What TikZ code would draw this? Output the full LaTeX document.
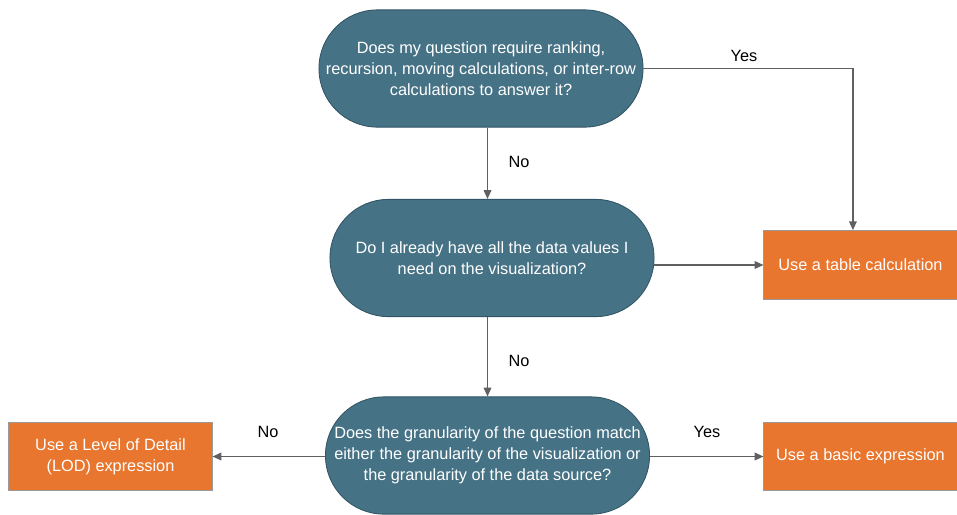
\documentclass[tikz,border=0pt]{standalone}
\usepackage{fontspec}
\setmainfont{Liberation Sans}
\usepackage{xcolor}
\usetikzlibrary{arrows.meta,calc,positioning}
\definecolor{flowteal}{RGB}{70,114,134}
\definecolor{flowtealdark}{RGB}{50,84,100}
\definecolor{floworange}{RGB}{232,118,46}
\definecolor{flowgray}{RGB}{96,96,96}

\begin{document}
\begin{tikzpicture}[x=0.025cm,y=-0.025cm,>={Triangle[length=0.22cm,width=0.19cm]},
  font=\fontsize{11.6}{15}\selectfont,
  question/.style={draw=flowtealdark,fill=flowteal,text=white,align=center,line width=0.6pt,
    minimum width=8.1cm,minimum height=2.93cm,rounded corners=1.46cm,inner sep=0pt},
  answer/.style={draw=gray!80,fill=floworange,text=white,align=center,line width=0.6pt,
    minimum height=1.72cm,inner sep=0pt},
  link/.style={draw=flowgray,line width=1pt,->}]
\useasboundingbox (0,0) rectangle (957,514);
% decisions
\node[question] (q1) at (481,68.5) {Does my question require ranking,\\recursion, moving calculations, or inter-row\\calculations to answer it?};
\node[question] (q2) at (492,258) {Do I already have all the data values I\\need on the visualization?};
\node[question] (q3) at (487.5,455.5) {Does the granularity of the question match\\either the granularity of the visualization or\\the granularity of the data source?};
% outcomes
\node[answer,minimum width=4.83cm] (tab) at (860.5,265) {Use a table calculation};
\node[answer,minimum width=4.83cm] (basic) at (860.5,456.5) {Use a basic expression};
\node[answer,minimum width=5.08cm] (lod) at (110.5,456.5) {Use a Level of Detail\\(LOD) expression};
% connectors
\draw[link] (q1.east) -| ([xshift=-0.19cm]tab.north);
\draw[link] (q3.north |- q1.south) -- (q3.north |- q2.north);
\draw[link] (tab.west -| q2.east) -- (tab.west);
\draw[link] (q3.north |- q2.south) -- (q3.north);
\draw[link] (q3.west |- lod.east) -- (lod.east);
\draw[link] (q3.east |- basic.west) -- (basic.west);
% labels
\node (yes1) at (744,56) {Yes};
\node (no1) at (519,162) {No};
\node (no2) at (519,361) {No};
\node (no3) at (268,432) {No};
\node (yes2) at (707,432) {Yes};
\end{tikzpicture}
\end{document}
